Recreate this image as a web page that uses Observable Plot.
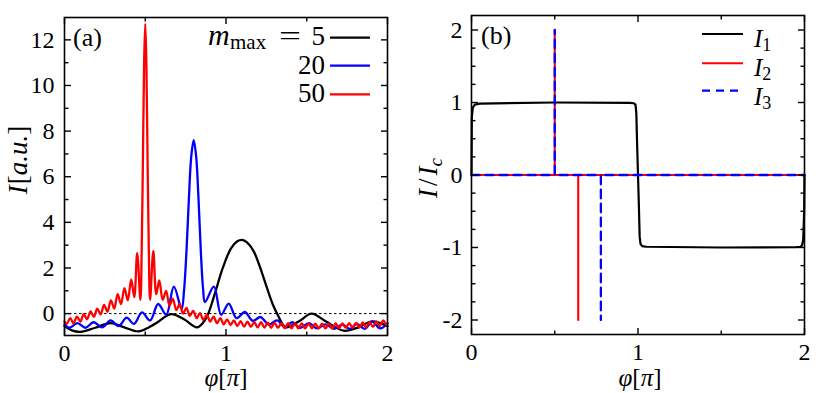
<!DOCTYPE html>
<html><head><meta charset="utf-8">
<script src="https://cdn.jsdelivr.net/npm/d3@7"></script>
<script src="https://cdn.jsdelivr.net/npm/@observablehq/plot@0.6"></script>
<style>
html,body{margin:0;padding:0;background:#fff;}
#wrap{position:relative;width:831px;height:393px;overflow:hidden;background:#fff;}
#wrap svg{position:absolute;}
</style></head><body><div id="wrap"></div>
<script>
// ---------- Panel (a): I(phi) for three m_max ----------
const seriesA = ["5", "20", "50"];
const phiM5 = [0, 0.05, 0.1, 0.19, 0.285, 0.37, 0.46, 0.56, 0.66, 0.74, 0.82, 0.86, 0.89, 0.93, 0.98, 1.03, 1.07, 1.1, 1.13, 1.17, 1.21, 1.25, 1.29, 1.32, 1.37, 1.45, 1.53, 1.62, 1.73, 1.82, 1.905, 2.0];
const IM5 = [-0.55, -0.75, -0.8, -0.62, -0.42, -0.6, -0.78, -0.45, -0.02, -0.25, -0.6, -0.38, 0.0, 0.85, 2.0, 2.85, 3.17, 3.23, 3.12, 2.75, 2.05, 1.2, 0.4, -0.05, -0.6, -0.35, 0.0, -0.35, -0.75, -0.6, -0.34, -0.55];

const phiM20 = [0, 0.03, 0.08, 0.13, 0.18, 0.235, 0.285, 0.335, 0.385, 0.43, 0.48, 0.53, 0.58, 0.63, 0.677, 0.725, 0.74, 0.755, 0.77, 0.785, 0.8, 0.815, 0.83, 0.845, 0.858, 0.87, 0.925, 0.97, 1.017, 1.065, 1.117, 1.165, 1.214, 1.265, 1.317, 1.365, 1.41, 1.46, 1.513, 1.565, 1.616, 1.67, 1.72, 1.77, 1.81, 1.86, 1.905, 1.955, 2.0];
const IM20 = [-0.48, -0.62, -0.42, -0.62, -0.38, -0.6, -0.3, -0.55, -0.18, -0.45, 0.05, -0.3, 0.42, -0.05, 1.18, 0.2, 1.0, 2.7, 5.0, 6.9, 7.6, 6.9, 5.0, 2.6, 1.1, 0.5, 1.18, -0.05, 0.44, -0.2, 0.07, -0.32, -0.15, -0.48, -0.3, -0.6, -0.38, -0.62, -0.42, -0.65, -0.47, -0.67, -0.48, -0.67, -0.45, -0.67, -0.35, -0.65, -0.42];

const phiM50 = [0, 0.014, 0.035, 0.056, 0.077, 0.098, 0.119, 0.14, 0.161, 0.182, 0.203, 0.224, 0.245, 0.266, 0.287, 0.308, 0.329, 0.35, 0.371, 0.392, 0.413, 0.432, 0.45, 0.47, 0.478, 0.486, 0.493, 0.5, 0.507, 0.514, 0.522, 0.53, 0.55, 0.568, 0.587, 0.608, 0.629, 0.65, 0.671, 0.692, 0.713, 0.734, 0.755, 0.776, 0.797, 0.818, 0.839, 0.86, 0.881, 0.902, 0.923, 0.944, 0.965, 0.986, 1.007, 1.028, 1.049, 1.07, 1.091, 1.112, 1.133, 1.154, 1.175, 1.196, 1.217, 1.238, 1.259, 1.28, 1.301, 1.322, 1.343, 1.364, 1.385, 1.406, 1.427, 1.448, 1.469, 1.49, 1.511, 1.532, 1.553, 1.574, 1.595, 1.616, 1.637, 1.658, 1.679, 1.7, 1.721, 1.742, 1.763, 1.784, 1.805, 1.826, 1.847, 1.868, 1.889, 1.91, 1.931, 1.952, 1.973, 1.994, 2.0];
const IM50 = [-0.35, -0.45, -0.2, -0.42, -0.13, -0.35, -0.02, -0.25, 0.1, -0.14, 0.22, -0.03, 0.38, 0.08, 0.58, 0.22, 0.85, 0.42, 1.12, 0.58, 1.5, 0.72, 2.65, 0.6, 2.8, 7.0, 11.0, 12.7, 11.0, 7.0, 2.8, 0.6, 2.75, 0.85, 1.45, 0.6, 1.0, 0.35, 0.65, 0.15, 0.42, 0.0, 0.25, -0.1, 0.12, -0.2, 0.02, -0.28, -0.06, -0.35, -0.13, -0.42, -0.2, -0.47, -0.25, -0.5, -0.3, -0.55, -0.33, -0.57, -0.35, -0.58, -0.37, -0.6, -0.38, -0.61, -0.4, -0.62, -0.41, -0.63, -0.42, -0.64, -0.42, -0.64, -0.43, -0.65, -0.43, -0.65, -0.44, -0.65, -0.44, -0.65, -0.44, -0.65, -0.44, -0.65, -0.43, -0.64, -0.43, -0.63, -0.42, -0.62, -0.41, -0.61, -0.39, -0.6, -0.37, -0.58, -0.34, -0.55, -0.3, -0.5, -0.45];

const xTicks = [0, 1, 2];
const xMinor = [0.5, 1.5];
const yTicksA = [0, 2, 4, 6, 8, 10, 12];
const yMinorA = [1, 3, 5, 7, 9, 11];

// ---------- Panel (b): I1, I2, I3 ----------
const seriesB = ["1", "2", "3"];
const phiI1 = [0, 0.002, 0.008, 0.02, 0.05, 0.5, 0.95, 0.975, 0.985, 0.99, 0.995, 1.0, 1.005, 1.01, 1.015, 1.025, 1.05, 1.5, 1.95, 1.975, 1.985, 1.992, 1.998, 2.0];
const I1 = [0, 0.8, 0.93, 0.97, 0.985, 1.0, 0.995, 0.99, 0.97, 0.85, 0.4, 0, -0.4, -0.85, -0.95, -0.98, -0.99, -1.0, -0.995, -0.99, -0.97, -0.9, -0.5, 0];
const phiI2 = [0, 0.5, 0.5, 0.5, 0.641, 0.641, 0.641, 2];
const I2 = [0, 0, 2, 0, 0, -2, 0, 0];
const phiI3 = [0, 0.5, 0.5, 0.5, 0.777, 0.777, 0.777, 2];
const I3 = [0, 0, 2, 0, 0, -2, 0, 0];
const yTicksB = [-2, -1, 0, 1, 2];
const yMinorB = [-1.75, -1.5, -1.25, -0.75, -0.5, -0.25, 0.25, 0.5, 0.75, 1.25, 1.5, 1.75];

const colorsA = ["#000000", "#0000ff", "#ff0000"];
const colorsB = ["#000000", "#ff0000", "#0000ff"];
const FONT = "Liberation Serif, Times New Roman, serif";

const toRows = (xs, ys) => xs.map((x, i) => ({phi: x, I: ys[i]}));

// inward ticks on all four sides; lengths converted from pixels to data units
function frameTicks(xDom, yDom, W, H, yMajor, yMinor) {
  const kx = (xDom[1] - xDom[0]) / W, ky = (yDom[1] - yDom[0]) / H;
  const m = [];
  const st = {stroke: "black", strokeWidth: 1.4};
  for (const [vals, len] of [[xTicks, 6.5], [xMinor, 4]]) {
    m.push(Plot.link(vals, {x1: d => d, x2: d => d, y1: () => yDom[0], y2: () => yDom[0] + len * ky, ...st}));
    m.push(Plot.link(vals, {x1: d => d, x2: d => d, y1: () => yDom[1], y2: () => yDom[1] - len * ky, ...st}));
  }
  for (const [vals, len] of [[yMajor, 6.5], [yMinor, 4]]) {
    m.push(Plot.link(vals, {y1: d => d, y2: d => d, x1: () => xDom[0], x2: () => xDom[0] + len * kx, ...st}));
    m.push(Plot.link(vals, {y1: d => d, y2: d => d, x1: () => xDom[1], x2: () => xDom[1] - len * kx, ...st}));
  }
  return m;
}
function tickLabels(yMajor, yPad) {
  return [
    Plot.axisX(xTicks, {anchor: "bottom", tickSize: 0, tickPadding: 8, tickFormat: d => String(d), label: null}),
    Plot.axisY(yMajor, {anchor: "left", tickSize: 0, tickPadding: yPad, tickFormat: d => String(d), label: null})
  ];
}

const A = {width: 415, height: 393, ml: 64, mr: 28, mt: 17, mb: 58, xd: [0, 2], yd: [-0.96, 12.98]};
const plotA = Plot.plot({
  width: A.width, height: A.height,
  marginLeft: A.ml, marginRight: A.mr, marginTop: A.mt, marginBottom: A.mb,
  x: {domain: A.xd},
  y: {domain: A.yd},
  style: {fontFamily: FONT, fontSize: "24px", color: "black", background: "transparent", overflow: "visible"},
  marks: [
    Plot.ruleY([0], {stroke: "black", strokeWidth: 1, strokeDasharray: "2.5,2.5"}),
    Plot.line(toRows(phiM5, IM5), {x: "phi", y: "I", stroke: colorsA[0], strokeWidth: 2.3, curve: "catmull-rom"}),
    Plot.line(toRows(phiM20, IM20), {x: "phi", y: "I", stroke: colorsA[1], strokeWidth: 2.3, curve: "catmull-rom"}),
    Plot.line(toRows(phiM50, IM50), {x: "phi", y: "I", stroke: colorsA[2], strokeWidth: 2.3, curve: "catmull-rom"}),
    ...frameTicks(A.xd, A.yd, A.width - A.ml - A.mr, A.height - A.mt - A.mb, yTicksA, yMinorA),
    ...tickLabels(yTicksA, 10),
    Plot.frame({stroke: "black", strokeWidth: 1.6})
  ]
});
plotA.style.left = "0px"; plotA.style.top = "0px";

const B = {width: 416, height: 393, ml: 56, mr: 27, mt: 15, mb: 59, xd: [0, 2], yd: [-2.2, 2.2]};
const plotB = Plot.plot({
  width: B.width, height: B.height,
  marginLeft: B.ml, marginRight: B.mr, marginTop: B.mt, marginBottom: B.mb,
  x: {domain: B.xd},
  y: {domain: B.yd},
  style: {fontFamily: FONT, fontSize: "24px", color: "black", background: "transparent", overflow: "visible"},
  marks: [
    Plot.line(toRows(phiI1, I1), {x: "phi", y: "I", stroke: colorsB[0], strokeWidth: 2.2}),
    Plot.line(toRows(phiI2, I2), {x: "phi", y: "I", stroke: colorsB[1], strokeWidth: 2.1}),
    Plot.line(toRows(phiI3, I3), {x: "phi", y: "I", stroke: colorsB[2], strokeWidth: 2.3, strokeDasharray: "8,6"}),
    ...frameTicks(B.xd, B.yd, B.width - B.ml - B.mr, B.height - B.mt - B.mb, yTicksB, yMinorB),
    ...tickLabels(yTicksB, 9),
    Plot.frame({stroke: "black", strokeWidth: 1.6})
  ]
});
plotB.style.left = "415px"; plotB.style.top = "0px";

const wrap = document.getElementById("wrap");
wrap.appendChild(plotA);
wrap.appendChild(plotB);

// ---------- panel tags, axis titles and legends ----------
const ov = `<svg width="831" height="393" style="left:0;top:0" font-family="${FONT}" font-size="24" fill="black">
  <text x="73" y="46" font-size="26">(a)</text>
  <text x="481" y="44" font-size="26">(b)</text>
  <text transform="translate(27,160) rotate(-90)" text-anchor="middle" font-size="27"><tspan font-style="italic">I</tspan><tspan dx="1">[</tspan><tspan font-style="italic">a.u.</tspan>]</text>
  <text transform="translate(437,178) rotate(-90)" text-anchor="middle" font-size="27"><tspan font-style="italic">I</tspan><tspan dx="3">/</tspan><tspan dx="3" font-style="italic">I</tspan><tspan font-style="italic" font-size="19" dy="5">c</tspan></text>
  <text x="226" y="386" text-anchor="middle" font-size="25"><tspan font-style="italic">φ</tspan>[<tspan font-style="italic">π</tspan>]</text>
  <text x="640" y="386" text-anchor="middle" font-size="25"><tspan font-style="italic">φ</tspan>[<tspan font-style="italic">π</tspan>]</text>
  <text x="208" y="45" font-size="30" font-style="italic">m</text>
  <text x="230" y="49" font-size="21">max</text>
  <text x="279" y="45" font-size="27" textLength="22" lengthAdjust="spacingAndGlyphs">=</text>
  <text x="325" y="45" font-size="27" text-anchor="end">${seriesA[0]}</text>
  <text x="325" y="74" font-size="27" text-anchor="end">${seriesA[1]}</text>
  <text x="325" y="102" font-size="27" text-anchor="end">${seriesA[2]}</text>
  <line x1="330" x2="370" y1="37.7" y2="37.7" stroke="${colorsA[0]}" stroke-width="2.3"/>
  <line x1="330" x2="370" y1="65.7" y2="65.7" stroke="${colorsA[1]}" stroke-width="2.3"/>
  <line x1="330" x2="370" y1="94.3" y2="94.3" stroke="${colorsA[2]}" stroke-width="2.3"/>
  <line x1="702" x2="743" y1="34" y2="34" stroke="${colorsB[0]}" stroke-width="2.2"/>
  <line x1="702" x2="743" y1="63.3" y2="63.3" stroke="${colorsB[1]}" stroke-width="2.1"/>
  <line x1="702" x2="743" y1="90.7" y2="90.7" stroke="${colorsB[2]}" stroke-width="2.3" stroke-dasharray="8,6"/>
  <text x="754" y="47" font-size="25"><tspan font-style="italic">I</tspan><tspan font-size="18" dy="4">${seriesB[0]}</tspan></text>
  <text x="754" y="76" font-size="25"><tspan font-style="italic">I</tspan><tspan font-size="18" dy="4">${seriesB[1]}</tspan></text>
  <text x="754" y="105" font-size="25"><tspan font-style="italic">I</tspan><tspan font-size="18" dy="4">${seriesB[2]}</tspan></text>
</svg>`;
wrap.insertAdjacentHTML("beforeend", ov);
</script>
</body></html>
